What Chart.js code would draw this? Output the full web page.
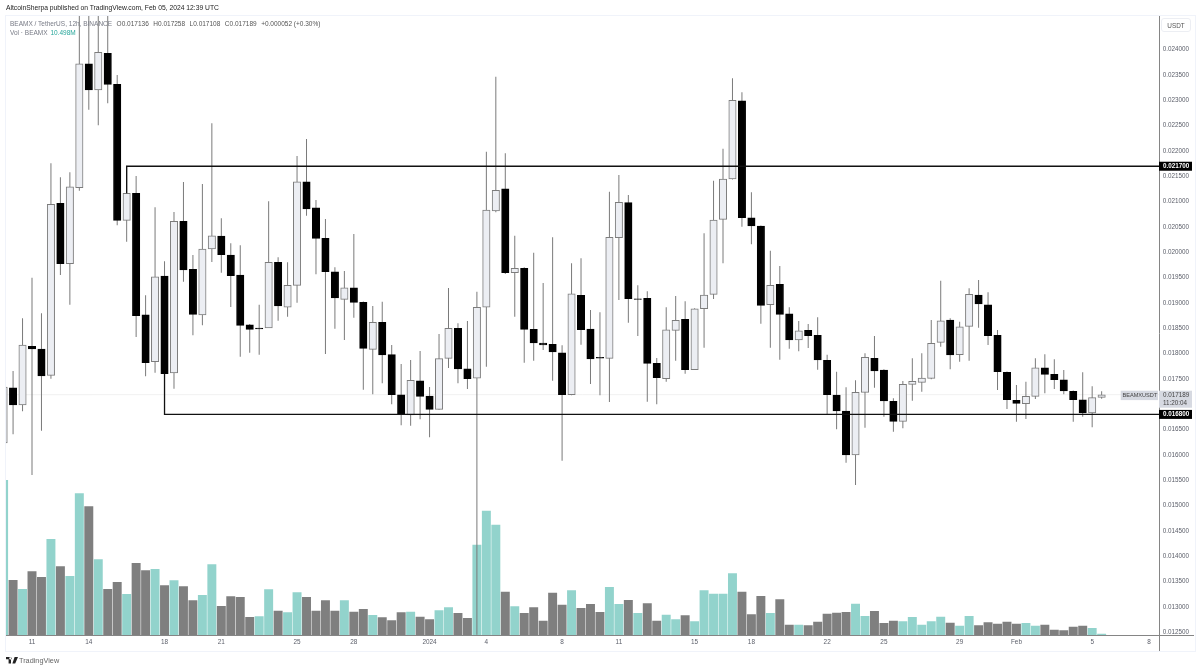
<!DOCTYPE html>
<html>
<head>
<meta charset="utf-8">
<title>BEAMX / TetherUS</title>
<script src="https://cdn.jsdelivr.net/npm/chart.js@4"></script>
<style>
  html, body { margin: 0; background: #fff; }
  #wrap { position: relative; width: 1200px; height: 671px; overflow: hidden; font-family: "Liberation Sans", Arial, sans-serif; }
  #frame { position: absolute; left: 5px; top: 15px; width: 1189px; height: 635px; border: 1px solid #f0f3fa; }
  canvas { position: absolute; left: 0; top: 0; }
  .txt { position: absolute; white-space: nowrap; line-height: 1; }
  #published { left: 6px; top: 5px; font-size: 6.74px; color: #222; }
  #symbol { left: 10px; top: 21px; font-size: 6.5px; color: #787b86; }
  #symbol b { font-weight: normal; color: #555; margin-left: 2.7px; }
  #vol { left: 10px; top: 30px; font-size: 6.5px; color: #787b86; }
  #vol span { color: #26a69a; margin-left: 1px; }
  #usdt { left: 1161px; top: 18px; width: 30px; height: 14px; line-height: 13px; font-size: 6.4px; color: #555; text-align: center; border: 1px solid #eceef3; border-radius: 3px; box-sizing: border-box; }
  #brand { left: 19px; top: 657px; font-size: 7.3px; color: #666; }
  #logo { position: absolute; left: 6px; top: 657px; }
</style>
</head>
<body>
<div id="wrap">
  <div id="frame"></div>
  <canvas id="grafica" width="1200" height="671"></canvas>
  <div class="txt" id="published">AltcoinSherpa published on TradingView.com, Feb 05, 2024 12:39 UTC</div>
  <div class="txt" id="symbol">BEAMX / TetherUS, 12h, BINANCE <b>O0.017136</b> <b>H0.017258</b> <b>L0.017108</b> <b>C0.017189</b> <b>+0.000052 (+0.30%)</b></div>
  <div class="txt" id="vol">Vol · BEAMX <span>10.498M</span></div>
  <div class="txt" id="usdt">USDT</div>
  <svg id="logo" width="12" height="7" viewBox="0 0 12 7"><path d="M0 0h5v6.5H2.6V2.2H0zM5.6 1.4a1.2 1.2 0 1 0 0 .01zM8.6 0H12L9.2 6.5H6.4z" fill="#222"/></svg>
  <div class="txt" id="brand">TradingView</div>
</div>
<script>
// Precios de cada vela de 12h, de izquierda a derecha
const opens = [0.016235,0.017327,0.016985,0.018144,0.018091,0.017572,0.020968,0.019775,0.021276,0.023724,0.023205,0.023929,0.023317,0.020632,0.021165,0.018768,0.017841,0.019532,0.017617,0.020612,0.019665,0.018762,0.020065,0.020322,0.019947,0.019552,0.018571,0.018506,0.018506,0.019803,0.018915,0.019349,0.021394,0.020881,0.020277,0.019617,0.019072,0.019301,0.019013,0.018085,0.018618,0.017979,0.017189,0.016788,0.017465,0.017163,0.016901,0.017907,0.018500,0.017702,0.017518,0.018915,0.020816,0.021256,0.019598,0.019684,0.018480,0.018210,0.018184,0.018018,0.017189,0.019151,0.018486,0.017927,0.017907,0.020288,0.020980,0.019084,0.019092,0.017809,0.017505,0.018460,0.018678,0.017683,0.018887,0.019171,0.020652,0.021447,0.022993,0.020683,0.020520,0.018966,0.019369,0.018788,0.018269,0.018460,0.018362,0.017868,0.017183,0.016867,0.015998,0.017236,0.017907,0.017676,0.017059,0.016664,0.017394,0.017433,0.017512,0.018223,0.018664,0.017979,0.018539,0.019157,0.018966,0.018362,0.017631,0.017078,0.017011,0.017157,0.017722,0.017591,0.017485,0.017256,0.017090,0.016828,0.017136];
const highs = [0.017479,0.017657,0.018697,0.019499,0.018796,0.021757,0.021481,0.021580,0.024700,0.024700,0.024700,0.024700,0.023501,0.021700,0.021507,0.019151,0.020889,0.019823,0.020796,0.021388,0.019947,0.021349,0.022547,0.020671,0.020178,0.020138,0.018585,0.018966,0.021007,0.019902,0.019803,0.021902,0.022237,0.021033,0.020658,0.019704,0.019631,0.020361,0.019030,0.018940,0.019025,0.018170,0.017795,0.017874,0.018052,0.017341,0.018387,0.019295,0.018598,0.018644,0.019222,0.021986,0.023467,0.021955,0.020328,0.019704,0.019992,0.019394,0.020297,0.018164,0.019783,0.019882,0.018861,0.018816,0.021197,0.021527,0.021132,0.019349,0.019230,0.017914,0.018915,0.019137,0.019033,0.018895,0.020375,0.021414,0.022046,0.023435,0.023159,0.021185,0.020530,0.020032,0.019730,0.018915,0.018644,0.018585,0.018717,0.017979,0.017643,0.017335,0.017473,0.018006,0.018348,0.017690,0.017118,0.017459,0.017907,0.018006,0.018664,0.019440,0.018697,0.018630,0.019289,0.019453,0.019210,0.018466,0.017645,0.017380,0.017446,0.017907,0.017986,0.017888,0.017676,0.017270,0.017631,0.017355,0.017258];
const lows = [0.016097,0.016407,0.016861,0.015604,0.016478,0.017505,0.019552,0.018966,0.021217,0.022816,0.022508,0.022942,0.020533,0.020210,0.018328,0.017552,0.017623,0.016800,0.017307,0.019420,0.018362,0.018559,0.019809,0.019598,0.018920,0.017939,0.018018,0.017979,0.018506,0.018650,0.018729,0.019005,0.020723,0.019566,0.017992,0.018492,0.018269,0.018709,0.017288,0.017197,0.017414,0.016999,0.016585,0.016577,0.016703,0.016348,0.016890,0.017716,0.017414,0.017301,0.012450,0.017741,0.020790,0.019572,0.018729,0.017821,0.017860,0.018071,0.017465,0.015886,0.017180,0.018176,0.017400,0.017177,0.017045,0.019059,0.018611,0.018348,0.017051,0.016999,0.017446,0.017860,0.017603,0.017675,0.018117,0.019078,0.019783,0.021440,0.020506,0.020158,0.018591,0.018117,0.017880,0.018097,0.018046,0.018111,0.017683,0.016808,0.016505,0.015846,0.015406,0.016537,0.017327,0.016754,0.016458,0.016525,0.017070,0.017248,0.017493,0.018136,0.017690,0.017840,0.017860,0.018511,0.018170,0.017281,0.016906,0.016655,0.016709,0.017104,0.017216,0.017301,0.017197,0.016655,0.016754,0.016546,0.017108];
const closes = [0.017341,0.016985,0.018170,0.018091,0.017558,0.020948,0.019775,0.021295,0.023724,0.023205,0.023949,0.023317,0.020632,0.021165,0.018749,0.017821,0.019518,0.017603,0.020612,0.019651,0.018776,0.020065,0.020328,0.019953,0.019538,0.018559,0.018480,0.018486,0.019803,0.018940,0.019349,0.021394,0.020855,0.020277,0.019617,0.019098,0.019301,0.019013,0.018105,0.018618,0.017973,0.017189,0.016808,0.017473,0.017157,0.016901,0.017900,0.018500,0.017696,0.017505,0.018915,0.020835,0.021224,0.019598,0.019684,0.018480,0.018210,0.018170,0.018032,0.017189,0.019183,0.018472,0.017894,0.017910,0.020297,0.020987,0.019084,0.019070,0.017809,0.017525,0.018472,0.018658,0.017683,0.018887,0.019157,0.020638,0.021447,0.023001,0.020683,0.020520,0.018954,0.019349,0.018776,0.018269,0.018452,0.018354,0.017874,0.017189,0.016867,0.015998,0.017236,0.017927,0.017657,0.017065,0.016664,0.017394,0.017453,0.017518,0.018204,0.018650,0.017973,0.018531,0.019171,0.018980,0.018354,0.017643,0.017090,0.017019,0.017157,0.017722,0.017591,0.017485,0.017262,0.017090,0.016828,0.017130,0.017189];
// Volumen en millones
const volumes = [1085,385,322,446,406,672,481,413,992,901,530,322,371,287,504,453,462,348,383,341,243,280,495,203,271,266,126,131,320,170,159,299,266,170,243,170,243,163,182,140,124,103,159,163,128,110,173,194,154,119,632,870,772,303,201,154,194,100,296,212,313,189,217,161,336,217,245,154,222,100,142,110,138,96,313,289,289,432,303,145,273,154,250,72,72,68,93,149,156,161,219,133,168,84,100,96,126,72,96,128,86,65,133,68,89,79,93,79,84,65,72,37,33,58,65,49,9];
const volumeUp = [1,0,1,0,0,1,0,1,1,0,1,0,0,1,0,0,1,0,1,0,0,1,1,0,0,0,0,1,1,0,1,1,0,0,0,0,1,0,0,1,0,0,0,1,0,0,1,1,0,0,1,1,1,0,1,0,0,0,0,0,1,0,0,0,1,1,0,1,0,0,1,1,0,1,1,1,1,1,0,0,0,1,0,0,1,0,0,0,0,0,1,1,0,0,0,1,1,1,1,1,0,1,1,0,0,0,0,0,1,1,0,0,0,0,0,1,1];

const primeraVela = -3; // la primera vela queda cortada por el borde izquierdo

const xTicks = [0,6,14,20,28,34,42,48,56,62,70,76,84,90,98,104,112,118];
const xLabels = ["11","14","18","21","25","28","2024","4","8","11","15","18","22","25","29","Feb","5","8"];
const priceTicks = [0.0125,0.013,0.0135,0.014,0.0145,0.015,0.0155,0.016,0.0165,0.017,0.0175,0.018,0.0185,0.019,0.0195,0.02,0.0205,0.021,0.0215,0.022,0.0225,0.023,0.0235,0.024];

const nivelAlto = 0.0217;
const nivelBajo = 0.0168;
const ultimoPrecio = 0.017189;

const xMin = -2.747, xMax = 119.06;

const velas = opens.map((o, i) => ({ x: i + primeraVela, y: [o, closes[i]] }));
const mechas = opens.map((o, i) => ({ x: i + primeraVela, y: [lows[i], highs[i]] }));
const barrasVol = volumes.map((v, i) => ({ x: i + primeraVela, y: v }));
const esAlcista = opens.map((o, i) => closes[i] >= o);

// Ejes y etiquetas de precio que Chart.js no dibuja
const etiquetasPrecio = {
    id: "etiquetasPrecio",
    afterDraw(chart) {
        const { ctx, chartArea, scales } = chart;
        const right = chartArea.right;
        ctx.save();
        ctx.strokeStyle = "#858585";
        ctx.lineWidth = 1;
        ctx.beginPath();
        ctx.moveTo(chartArea.left, Math.round(chartArea.bottom) + 0.5);
        ctx.lineTo(1194, Math.round(chartArea.bottom) + 0.5);
        ctx.moveTo(right + 0.5, chartArea.top);
        ctx.lineTo(right + 0.5, 651);
        ctx.stroke();

        ctx.font = "bold 6.3px 'Liberation Sans'";
        ctx.textAlign = "left";
        ctx.textBaseline = "middle";
        [nivelAlto, nivelBajo].forEach(nivel => {
            const y = scales.y.getPixelForValue(nivel);
            ctx.fillStyle = "#000";
            ctx.fillRect(right, y - 4.5, 33, 9);
            ctx.fillStyle = "#fff";
            ctx.fillText(nivel.toFixed(6), right + 4, y + 0.3);
        });

        const yp = scales.y.getPixelForValue(ultimoPrecio);
        ctx.fillStyle = "#d6d9e1";
        ctx.fillRect(right, yp - 4, 33, 17);
        ctx.fillRect(1120.7, yp - 4, 37.3, 9.4);
        ctx.fillStyle = "#444";
        ctx.font = "6.3px 'Liberation Sans'";
        ctx.fillText(ultimoPrecio.toFixed(6), right + 4, yp + 0.5);
        ctx.fillText("11:20:04", right + 4, yp + 8.5);
        ctx.font = "5.6px 'Liberation Sans'";
        ctx.fillText("BEAMXUSDT", 1122.5, yp + 0.7);
        ctx.restore();
    }
};

new Chart(document.getElementById("grafica").getContext("2d"), {
    data: {
        datasets: [
            {
                type: "line",
                data: [{ x: 10, y: 0.021165 }, { x: 10, y: nivelAlto }, { x: xMax, y: nivelAlto }],
                borderColor: "#111",
                borderWidth: 1.3,
                pointRadius: 0,
                order: 0
            },
            {
                type: "line",
                data: [{ x: 14, y: 0.017603 }, { x: 14, y: nivelBajo }, { x: xMax, y: nivelBajo }],
                borderColor: "#111",
                borderWidth: 1.3,
                pointRadius: 0,
                order: 0
            },
            {
                type: "line",
                data: [{ x: xMin, y: ultimoPrecio }, { x: xMax, y: ultimoPrecio }],
                borderColor: "#f1f1f1",
                borderWidth: 1,
                pointRadius: 0,
                order: 5
            },
            {
                type: "bar",
                data: velas,
                backgroundColor: esAlcista.map(a => a ? "#eceef3" : "#000"),
                borderColor: esAlcista.map(a => a ? "#7c7c7c" : "#000"),
                borderWidth: 1,
                borderSkipped: false,
                barThickness: 7.4,
                grouped: false,
                order: 1
            },
            {
                type: "bar",
                data: mechas,
                backgroundColor: "#7a7a7a",
                borderWidth: 0,
                barThickness: 1,
                inflateAmount: 0,
                grouped: false,
                order: 2
            },
            {
                type: "bar",
                yAxisID: "yVol",
                data: barrasVol,
                backgroundColor: volumeUp.map(u => u ? "#92d3cc" : "#7f7f7f"),
                borderWidth: 0,
                barThickness: 8.3,
                grouped: false,
                order: 3
            }
        ]
    },
    options: {
        responsive: false,
        animation: false,
        events: [],
        layout: { padding: { left: 6, top: 16, right: 0, bottom: 0 } },
        plugins: { legend: { display: false }, tooltip: { enabled: false } },
        scales: {
            x: {
                type: "linear",
                offset: false,
                min: xMin,
                max: xMax,
                grid: { display: false, drawTicks: false, offset: false },
                border: { display: false },
                afterBuildTicks: scale => { scale.ticks = xTicks.map(v => ({ value: v })); },
                afterFit: scale => { scale.height = 35.7; },
                ticks: {
                    autoSkip: false,
                    maxRotation: 0,
                    padding: 3.5,
                    color: "#5d606b",
                    font: { family: "'Liberation Sans'", size: 6.4 },
                    callback: (v, i) => xLabels[i]
                }
            },
            y: {
                position: "right",
                min: 0.012439,
                max: 0.024666,
                grid: { display: false, drawTicks: false },
                border: { display: false },
                afterBuildTicks: scale => { scale.ticks = priceTicks.map(v => ({ value: v })); },
                afterFit: scale => { scale.width = 41; },
                ticks: {
                    autoSkip: false,
                    padding: 3.7,
                    color: "#5d606b",
                    font: { family: "'Liberation Sans'", size: 6.3 },
                    callback: v => v.toFixed(6)
                }
            },
            yVol: {
                display: false,
                min: 0,
                max: 4335
            }
        }
    },
    plugins: [etiquetasPrecio]
});
</script>
</body>
</html>
